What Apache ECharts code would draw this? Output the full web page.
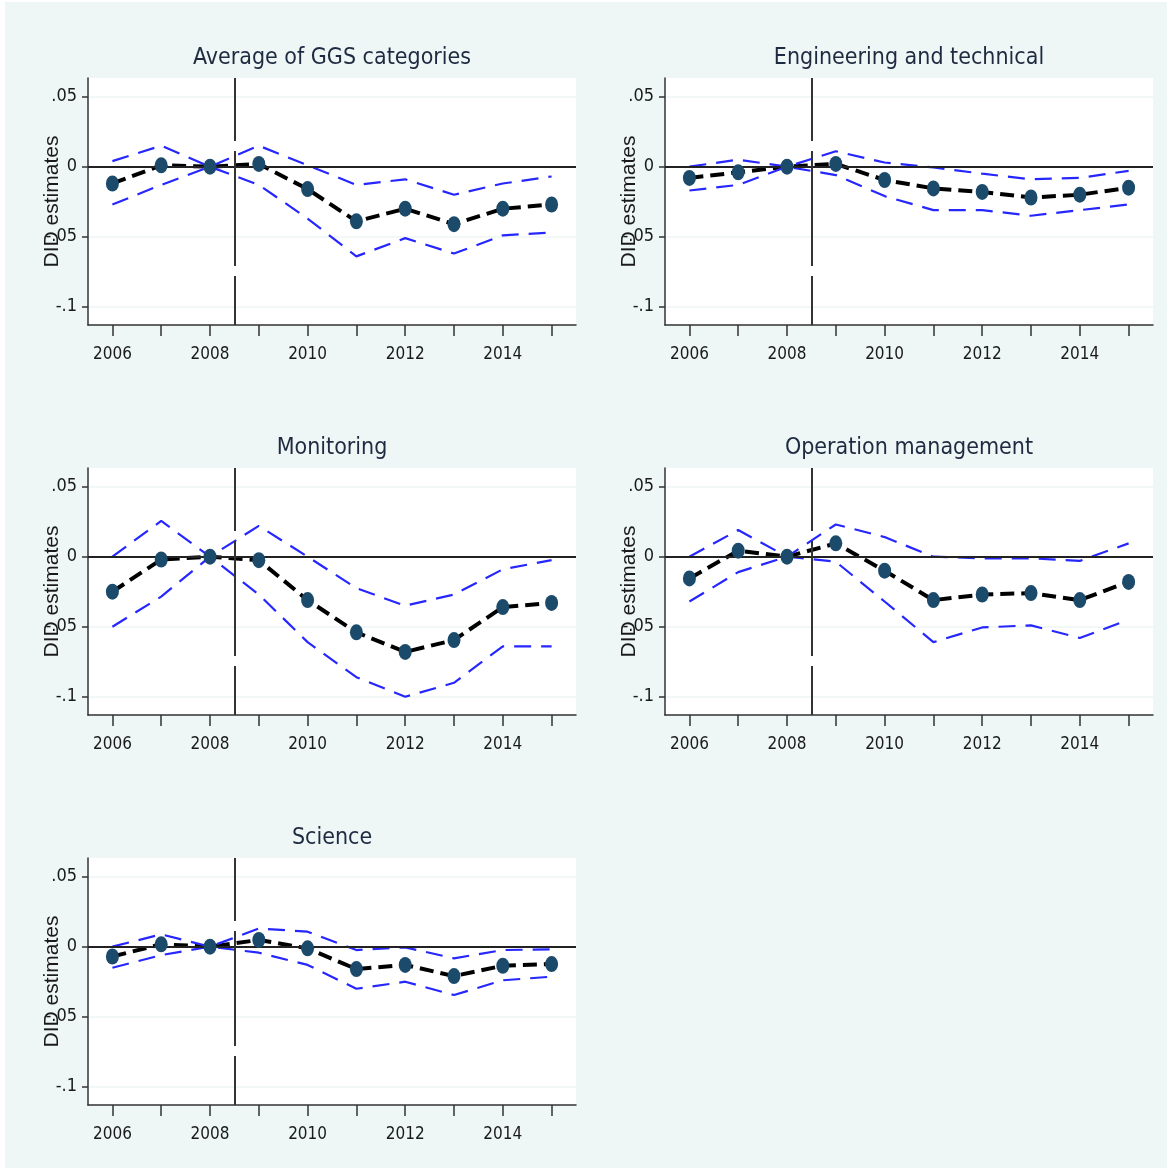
<!DOCTYPE html>
<html>
<head>
<meta charset="utf-8">
<script src="https://cdn.jsdelivr.net/npm/echarts@6/dist/echarts.min.js"></script>
<style>
html,body{margin:0;padding:0;background:#ffffff;}
#c{width:1167px;height:1168px;}
</style>
</head>
<body>
<div id="c"></div>
<script>
const YEARS = [2006, 2007, 2008, 2009, 2010, 2011, 2012, 2013, 2014, 2015];
const X_LABEL_YEARS = [2006, 2008, 2010, 2012, 2014];
const Y_TICKS = [0.05, 0, -0.05, -0.1];
const Y_LABELS = ['.05', '0', '-.05', '-.1'];
const TITLES = ['Average of GGS categories', 'Engineering and technical', 'Monitoring', 'Operation management', 'Science'];
const Y_NAME = 'DID estimates';
const TREAT_LINE = 2008.5;

const EST_AVG = [-0.012, 0.001, 0, 0.002, -0.016, -0.039, -0.030, -0.041, -0.030, -0.027];
const UP_AVG  = [0.004, 0.015, 0, 0.015, 0.001, -0.013, -0.009, -0.020, -0.012, -0.007];
const LO_AVG  = [-0.027, -0.013, 0, -0.013, -0.037, -0.064, -0.051, -0.062, -0.049, -0.047];

const EST_ENG = [-0.008, -0.004, 0, 0.002, -0.0095, -0.0155, -0.018, -0.022, -0.020, -0.015];
const UP_ENG  = [0.000, 0.005, 0, 0.011, 0.003, -0.0005, -0.005, -0.009, -0.008, -0.003];
const LO_ENG  = [-0.017, -0.013, 0, -0.006, -0.021, -0.031, -0.031, -0.035, -0.031, -0.027];

const EST_MON = [-0.025, -0.002, 0, -0.0025, -0.031, -0.054, -0.068, -0.0595, -0.036, -0.033];
const UP_MON  = [0.000, 0.0255, 0, 0.022, 0.000, -0.0225, -0.035, -0.027, -0.009, -0.0025];
const LO_MON  = [-0.050, -0.0285, 0, -0.027, -0.061, -0.086, -0.100, -0.090, -0.064, -0.064];

const EST_OPS = [-0.0155, 0.0043, 0, 0.0095, -0.010, -0.031, -0.027, -0.026, -0.031, -0.018];
const UP_OPS  = [0.000, 0.019, 0, 0.023, 0.014, 0.000, -0.0012, -0.0012, -0.003, 0.0095];
const LO_OPS  = [-0.032, -0.011, 0, -0.0036, -0.032, -0.061, -0.0505, -0.049, -0.058, -0.045];

const EST_SCI = [-0.007, 0.0017, 0, 0.0048, -0.0012, -0.016, -0.013, -0.021, -0.0136, -0.0124];
const UP_SCI  = [0.000, 0.0088, 0, 0.013, 0.0107, -0.0024, -0.0005, -0.0083, -0.0024, -0.0019];
const LO_SCI  = [-0.015, -0.006, 0, -0.0043, -0.013, -0.030, -0.025, -0.0345, -0.024, -0.0214];

const PANELS = [
  {est: EST_AVG, up: UP_AVG, lo: LO_AVG},
  {est: EST_ENG, up: UP_ENG, lo: LO_ENG},
  {est: EST_MON, up: UP_MON, lo: LO_MON},
  {est: EST_OPS, up: UP_OPS, lo: LO_OPS},
  {est: EST_SCI, up: UP_SCI, lo: LO_SCI}
];

const GRID_POS = [
  {left: 88, top: 78},
  {left: 665, top: 78},
  {left: 88, top: 468},
  {left: 665, top: 468},
  {left: 88, top: 858}
];
const PW = 488, PH = 247;
const NARROW = "'Liberation Sans Narrow','DejaVu Sans Condensed','Arial Narrow',sans-serif";
const TXT = '#1a1a1a';

const pairs = arr => YEARS.map((y, i) => [y, arr[i]]);
const labelFor = v => {
  for (let i = 0; i < Y_TICKS.length; i++) if (Math.abs(v - Y_TICKS[i]) < 1e-9) return Y_LABELS[i];
  return '';
};

const grids = [], xAxes = [], yAxes = [], series = [], titles = [];
PANELS.forEach((p, k) => {
  const g = GRID_POS[k];
  grids.push({left: g.left, top: g.top, width: PW, height: PH, show: true,
    backgroundColor: '#ffffff', borderWidth: 0, containLabel: false});
  titles.push({text: TITLES[k], left: g.left + PW / 2, top: g.top - 31, textAlign: 'center', padding: 0,
    textStyle: {fontFamily: NARROW, fontSize: 23, fontWeight: 'normal', color: '#1e2a40'}});
  xAxes.push({type: 'value', gridIndex: k, min: 2005.5, max: 2015.5,
    axisLine: {show: true, onZero: false, lineStyle: {color: '#333', width: 1.5}},
    axisTick: {show: true, length: 11, customValues: YEARS, lineStyle: {color: '#333', width: 1.5}},
    axisLabel: {show: true, customValues: X_LABEL_YEARS, margin: 21, color: TXT,
      fontFamily: NARROW, fontSize: 17, formatter: v => String(Math.round(v))},
    splitLine: {show: false}});
  yAxes.push({type: 'value', gridIndex: k, min: -0.113, max: 0.0633,
    name: Y_NAME, nameLocation: 'middle', nameRotate: 90, nameGap: 25, nameMoveOverlap: false,
    nameTextStyle: {fontFamily: "'Liberation Sans',Arial,sans-serif", fontSize: 21, color: TXT},
    axisLine: {show: true, onZero: false, lineStyle: {color: '#333', width: 1.5}},
    axisTick: {show: true, length: 6, customValues: Y_TICKS, lineStyle: {color: '#333', width: 1.5}},
    axisLabel: {show: true, customValues: Y_TICKS, margin: 11, color: TXT,
      fontFamily: NARROW, fontSize: 18, formatter: labelFor},
    splitLine: {show: true, lineStyle: {color: '#eef5f5', width: 1.5}}});
  series.push({type: 'line', xAxisIndex: k, yAxisIndex: k, data: pairs(p.est), symbol: 'none',
    lineStyle: {color: '#000', width: 4, type: [14, 7]}, z: 3, silent: true,
    markLine: {silent: true, symbol: 'none', label: {show: false}, animation: false,
      data: [
        {yAxis: 0, lineStyle: {color: '#222', width: 2, type: 'solid'}},
        {xAxis: TREAT_LINE, lineStyle: {color: '#333', width: 2, type: [115, 10], dashOffset: 66}}
      ]}});
  series.push({type: 'line', xAxisIndex: k, yAxisIndex: k, data: pairs(p.up), symbol: 'none',
    lineStyle: {color: '#2626ff', width: 2.2, type: [17, 10]}, z: 4, silent: true});
  series.push({type: 'line', xAxisIndex: k, yAxisIndex: k, data: pairs(p.lo), symbol: 'none',
    lineStyle: {color: '#2626ff', width: 2.2, type: [17, 10]}, z: 4, silent: true});
  series.push({type: 'scatter', xAxisIndex: k, yAxisIndex: k, data: pairs(p.est), symbol: 'circle',
    symbolSize: [13, 16], itemStyle: {color: '#1b4a6b', opacity: 1}, z: 5, silent: true});
});

const chart = echarts.init(document.getElementById('c'), null, {renderer: 'canvas'});
chart.setOption({
  animation: false,
  backgroundColor: '#eef6f6',
  graphic: [
    {type: 'rect', shape: {x: 0, y: 0, width: 5, height: 1168}, style: {fill: '#ffffff'}, silent: true},
    {type: 'rect', shape: {x: 0, y: 0, width: 1167, height: 2}, style: {fill: '#ffffff'}, silent: true}
  ],
  title: titles,
  grid: grids,
  xAxis: xAxes,
  yAxis: yAxes,
  series: series
});
</script>
</body>
</html>
